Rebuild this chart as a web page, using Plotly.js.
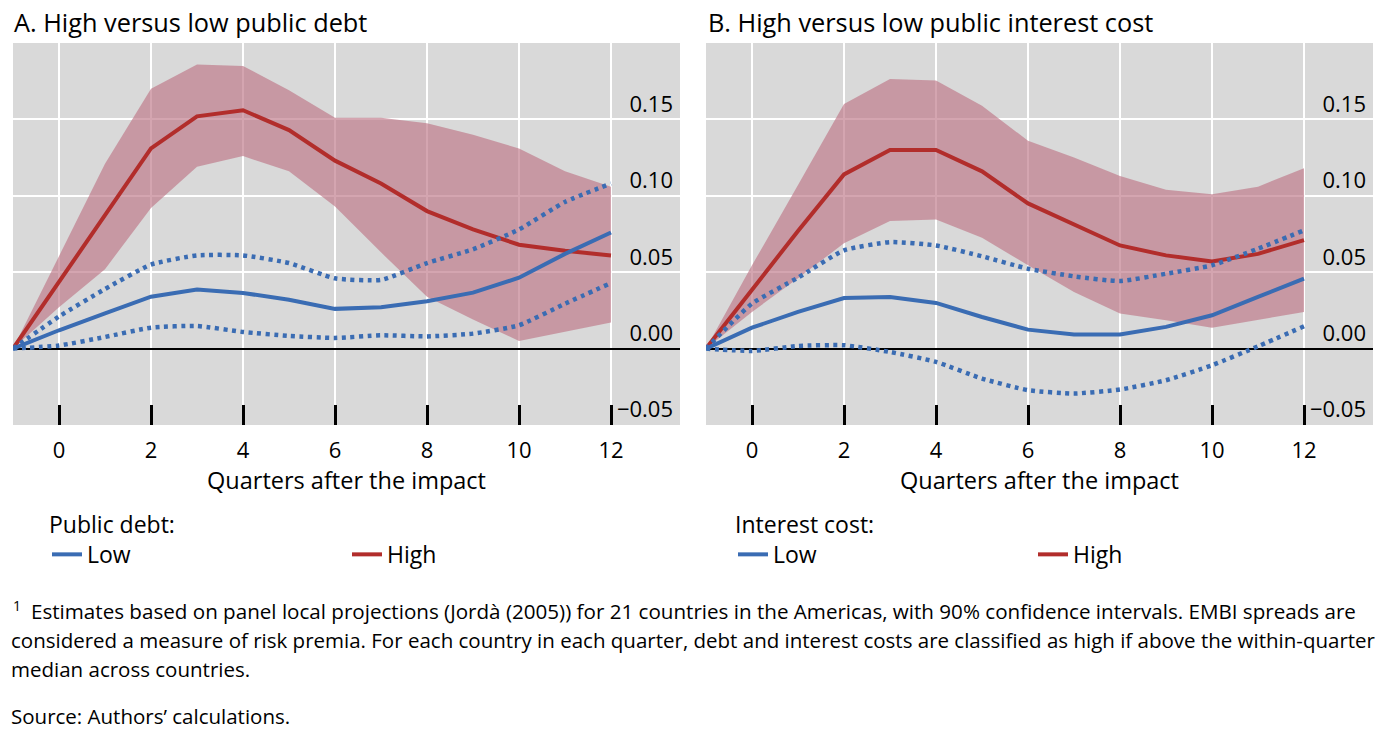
<!DOCTYPE html>
<html>
<head>
<meta charset="utf-8">
<script src="https://cdn.plot.ly/plotly-3.0.1.min.js"></script>
<style>html,body{margin:0;padding:0;background:#fff;overflow:hidden;}#chart{width:1400px;height:739px;}</style>
</head>
<body>
<div id="chart"></div>
<script>
// Quarters after the impact
const quarters = [-1, 0, 1, 2, 3, 4, 5, 6, 7, 8, 9, 10, 11, 12];

// Panel A: High versus low public debt
const debtHigh      = [0, 0.044, 0.087, 0.131, 0.152, 0.156, 0.143, 0.123, 0.108, 0.090, 0.078, 0.068, 0.064, 0.061];
const debtHighUpper = [0, 0.061, 0.121, 0.170, 0.186, 0.185, 0.169, 0.151, 0.151, 0.1475, 0.140, 0.131, 0.116, 0.106];
const debtHighLower = [0, 0.027, 0.052, 0.092, 0.119, 0.126, 0.116, 0.093, 0.063, 0.034, 0.019, 0.005, 0.011, 0.017];
const debtLow       = [0, 0.012, 0.023, 0.034, 0.0386, 0.0364, 0.032, 0.026, 0.027, 0.031, 0.0366, 0.0464, 0.062, 0.076];
const debtLowUpper  = [0, 0.021, 0.039, 0.055, 0.061, 0.061, 0.056, 0.046, 0.045, 0.056, 0.065, 0.078, 0.096, 0.108];
const debtLowLower  = [0, 0.002, 0.0076, 0.0137, 0.0148, 0.0109, 0.0083, 0.007, 0.0087, 0.008, 0.0098, 0.0153, 0.0294, 0.0429];

// Panel B: High versus low public interest cost
const costHigh      = [0, 0.039, 0.077, 0.114, 0.130, 0.130, 0.116, 0.095, 0.081, 0.0675, 0.061, 0.057, 0.062, 0.071];
const costHighUpper = [0, 0.0545, 0.107, 0.160, 0.1765, 0.1754, 0.159, 0.136, 0.125, 0.113, 0.104, 0.101, 0.106, 0.118];
const costHighLower = [0, 0.024, 0.046, 0.069, 0.0835, 0.0845, 0.0726, 0.0545, 0.037, 0.023, 0.0185, 0.0137, 0.019, 0.024];
const costLow       = [0, 0.0137, 0.024, 0.0331, 0.0338, 0.0299, 0.0207, 0.0124, 0.0092, 0.0092, 0.0142, 0.0218, 0.0338, 0.0458];
const costLowUpper  = [0, 0.0294, 0.0464, 0.0643, 0.0697, 0.0675, 0.0604, 0.0523, 0.0473, 0.0442, 0.049, 0.0545, 0.0654, 0.0774];
const costLowLower  = [0, -0.0015, 0.0017, 0.0022, -0.0022, -0.0087, -0.0196, -0.0272, -0.0294, -0.0268, -0.0207, -0.0109, 0.0015, 0.0146];

// Tick labels
const yTickVals = [-0.05, 0, 0.05, 0.10, 0.15];
const yTickText = ['−0.05', '0.00', '0.05', '0.10', '0.15'];

const titles = ['A. High versus low public debt', 'B. High versus low public interest cost'];
const legendTitles = ['Public debt:', 'Interest cost:'];
const seriesNames = ['Low', 'High'];
const xTitle = 'Quarters after the impact';
const footLines = [
  'Estimates based on panel local projections (Jordà (2005)) for 21 countries in the Americas, with 90% confidence intervals. EMBI spreads are',
  'considered a measure of risk premia. For each country in each quarter, debt and interest costs are classified as high if above the within-quarter',
  'median across countries.'
];
const sourceText = 'Source: Authors’ calculations.';

const RED = '#b22d2b', BLUE = '#3a6cb3', BAND = 'rgba(190,118,135,0.66)';
const FONT = 'Open Sans, Noto Sans, sans-serif';

function panel(xa, ya, legendId, high, hiU, hiL, low, loU, loL) {
  const bandX = quarters.concat(quarters.slice().reverse());
  const bandY = hiU.concat(hiL.slice().reverse());
  return [
    {x: bandX, y: bandY, xaxis: xa, yaxis: ya, type: 'scatter', mode: 'lines', fill: 'toself',
     fillcolor: BAND, line: {width: 0}, showlegend: false, hoverinfo: 'skip'},
    {x: quarters, y: high, xaxis: xa, yaxis: ya, type: 'scatter', mode: 'lines', name: seriesNames[1],
     line: {color: RED, width: 4}, legend: legendId, legendrank: 2},
    {x: quarters, y: low, xaxis: xa, yaxis: ya, type: 'scatter', mode: 'lines', name: seriesNames[0],
     line: {color: BLUE, width: 4}, legend: legendId, legendrank: 1},
    {x: quarters, y: loU, xaxis: xa, yaxis: ya, type: 'scatter', mode: 'lines', showlegend: false,
     line: {color: BLUE, width: 4.5, dash: '4px,4.5px', shape: 'spline', smoothing: 0.5}},
    {x: quarters, y: loL, xaxis: xa, yaxis: ya, type: 'scatter', mode: 'lines', showlegend: false,
     line: {color: BLUE, width: 4.5, dash: '4px,4.5px', shape: 'spline', smoothing: 0.5}}
  ];
}

const data = [].concat(
  panel('x', 'y', 'legend', debtHigh, debtHighUpper, debtHighLower, debtLow, debtLowUpper, debtLowLower),
  panel('x2', 'y2', 'legend2', costHigh, costHighUpper, costHighLower, costLow, costLowUpper, costLowLower)
);

const W = 1400, TOP = 43, BOT = 425;
const py = p => (BOT - p) / (BOT - TOP);

function xAxis(domain, anchor) {
  return {
    domain: domain, anchor: anchor, range: [-1, 13.5], tick0: 0, dtick: 2,
    ticks: 'inside', ticklen: 20, tickwidth: 3, tickcolor: '#000',
    showgrid: true, gridcolor: '#ffffff', gridwidth: 2, zeroline: false, showline: false,
    tickfont: {family: FONT, size: 22, color: '#000'}, ticklabelstandoff: 10,
    title: {text: xTitle, font: {family: FONT, size: 23.5, color: '#000'}, standoff: 8},
    fixedrange: true, automargin: false
  };
}
function yAxis(anchor) {
  return {
    anchor: anchor, range: [-0.05, 0.2], tickvals: yTickVals, ticktext: yTickText,
    side: 'right', ticklabelposition: 'inside top', ticks: '',
    showgrid: true, gridcolor: '#ffffff', gridwidth: 2,
    zeroline: true, zerolinecolor: '#000', zerolinewidth: 2, showline: false,
    tickfont: {family: FONT, size: 22, color: '#000'}, ticklabelstandoff: 4,
    fixedrange: true, automargin: false
  };
}

const annotations = [
  {text: titles[0], x: 12 / W, y: py(22), xref: 'paper', yref: 'paper', xanchor: 'left', yanchor: 'middle', showarrow: false,
   font: {family: FONT, size: 25.3, color: '#000'}},
  {text: titles[1], x: 706 / W, y: py(22), xref: 'paper', yref: 'paper', xanchor: 'left', yanchor: 'middle', showarrow: false,
   font: {family: FONT, size: 25.3, color: '#000'}},
  {text: '1', x: 11 / W, y: py(605), xref: 'paper', yref: 'paper', xanchor: 'left', yanchor: 'middle', showarrow: false,
   font: {family: FONT, size: 14, color: '#000'}},
  {text: footLines[0], x: 29 / W, y: py(611), xref: 'paper', yref: 'paper', xanchor: 'left', yanchor: 'middle', showarrow: false,
   font: {family: FONT, size: 20.6, color: '#000'}},
  {text: footLines[1], x: 9 / W, y: py(640), xref: 'paper', yref: 'paper', xanchor: 'left', yanchor: 'middle', showarrow: false,
   font: {family: FONT, size: 20.5, color: '#000'}},
  {text: footLines[2], x: 9 / W, y: py(669), xref: 'paper', yref: 'paper', xanchor: 'left', yanchor: 'middle', showarrow: false,
   font: {family: FONT, size: 20.5, color: '#000'}},
  {text: sourceText, x: 9 / W, y: py(716), xref: 'paper', yref: 'paper', xanchor: 'left', yanchor: 'middle', showarrow: false,
   font: {family: FONT, size: 20.5, color: '#000'}}
];

function legend(x, title) {
  return {
    x: x, y: py(503), xref: 'paper', yref: 'paper', xanchor: 'left', yanchor: 'top',
    orientation: 'h', entrywidth: 255, entrywidthmode: 'pixels', traceorder: 'normal',
    bgcolor: 'rgba(0,0,0,0)', borderwidth: 0,
    font: {family: FONT, size: 23, color: '#000'},
    title: {text: title, side: 'top', font: {family: FONT, size: 23, color: '#000'}}
  };
}

const layout = {
  width: 1400, height: 739,
  margin: {l: 0, r: 0, t: TOP, b: 739 - BOT, pad: 0, autoexpand: false},
  paper_bgcolor: '#ffffff', plot_bgcolor: '#d9d9d9',
  font: {family: FONT, color: '#000'},
  showlegend: true,
  xaxis: xAxis([13 / W, 680 / W], 'y'),
  yaxis: yAxis('x'),
  xaxis2: xAxis([706 / W, 1373 / W], 'y2'),
  yaxis2: yAxis('x2'),
  legend: legend(47 / W, legendTitles[0]),
  legend2: legend(733 / W, legendTitles[1]),
  annotations: annotations
};

Plotly.newPlot('chart', data, layout, {staticPlot: true, displayModeBar: false});
</script>
</body>
</html>
